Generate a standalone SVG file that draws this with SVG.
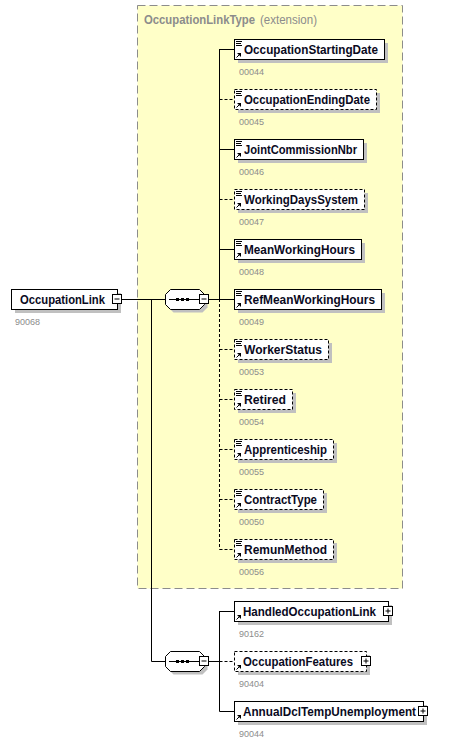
<svg xmlns="http://www.w3.org/2000/svg" width="463" height="744" viewBox="0 0 463 744">
<style>
.bg{fill:#ffffff}
.ext{fill:#ffffc8;stroke:#8c8c8c;stroke-width:1;stroke-dasharray:8,4}
.sh{fill:#c0c0c0}
.box{fill:#ffffff;stroke:#000000;stroke-width:1}
.opt{fill:#ffffff;stroke:#000000;stroke-width:1;stroke-dasharray:3,2}
.lbl{font-family:"Liberation Sans",Arial,sans-serif;font-size:13px;font-weight:bold;fill:#0a0a1e}
.num{font-family:"Liberation Sans",Arial,sans-serif;font-size:9px;fill:#8c8c8c}
.hdr{font-family:"Liberation Sans",Arial,sans-serif;font-size:12px;fill:#8c8c8c}
.ln{stroke:#000000;stroke-width:1;fill:none}
.dl{stroke:#000000;stroke-width:1;fill:none;stroke-dasharray:3,2}
.ic{stroke:#000000;stroke-width:1;fill:none}
</style>
<defs>
<g id="doc"><path d="M2,2.5h6M2,4.5h5M2,6.5h6" class="ic"/></g>
<g id="ref"><path d="M2.5,18.5L6,15" class="ic"/><path d="M7,14L7,18L3,14Z" fill="#000"/></g>
<g id="minus"><rect x="0.5" y="0.5" width="9" height="9" fill="#fff" stroke="#000"/><path d="M2.5,5h5" class="ic"/></g>
<g id="plus"><rect x="0.5" y="0.5" width="9" height="9" fill="#fff" stroke="#000"/><path d="M2.5,5h5M5,2.5v5" class="ic"/></g>
<g id="seq">
<polygon points="8.5,3.5 37.5,3.5 42.5,8.5 42.5,18.5 37.5,23.5 8.5,23.5 3.5,18.5 3.5,8.5" fill="#c0c0c0"/>
<polygon points="5.5,0.5 34.5,0.5 39.5,5.5 39.5,15.5 34.5,20.5 5.5,20.5 0.5,15.5 0.5,5.5" fill="#fff" stroke="#000"/>
<path d="M4,10.5h30" class="ic"/>
<rect x="11" y="9" width="3" height="3" fill="#000"/>
<rect x="16" y="9" width="3" height="3" fill="#000"/>
<rect x="21" y="9" width="3" height="3" fill="#000"/>
</g>
</defs>
<rect class="bg" x="0" y="0" width="463" height="744"/>
<rect class="ext" x="137.5" y="5.5" width="265" height="583"/>
<text x="144" y="24" class="hdr" font-size="11.5" font-weight="bold" textLength="111" lengthAdjust="spacingAndGlyphs">OccupationLinkType</text>
<text x="260" y="24" class="hdr" textLength="57" lengthAdjust="spacingAndGlyphs">(extension)</text>

<g id="connectors">
<path d="M122,299.5H165" class="ln"/>
<path d="M151.5,299V661.5H165" class="ln"/>
<path d="M209,299.5H219.5" class="ln"/>
<path d="M219.5,49V299" class="ln"/>
<path d="M219.5,299V549.5" class="dl"/>
<path d="M219.5,49.5H234M219.5,149.5H234M219.5,249.5H234M219.5,299.5H234" class="ln"/>
<path d="M219.5,99.5H234M219.5,199.5H234M219.5,349.5H234M219.5,399.5H234M219.5,449.5H234M219.5,499.5H234M219.5,549.5H234" class="dl"/>
<path d="M209,661.5H219.5M219.5,611V711.5" class="ln"/>
<path d="M219.5,611.5H234M219.5,711.5H234" class="ln"/>
<path d="M219.5,661.5H234" class="dl"/>
</g>

<g id="n-OccupationLink">
<rect class="sh" x="15" y="293" width="106" height="20"/>
<rect class="box" x="11.5" y="289.5" width="106" height="20"/>
<text x="20" y="304" class="lbl" textLength="85" lengthAdjust="spacingAndGlyphs">OccupationLink</text>
<use href="#minus" x="112" y="294"/>
<text x="15" y="325" class="num">90068</text>
</g>

<g id="seq1"><use href="#seq" x="165" y="289"/><use href="#minus" x="199" y="294"/></g>
<g id="seq2"><use href="#seq" x="165" y="651"/><use href="#minus" x="199" y="656"/></g>

<g id="n-OccupationStartingDate">
<rect class="sh" x="238" y="43" width="150" height="20"/>
<rect class="box" x="234.5" y="39.5" width="150" height="20"/>
<use href="#doc" x="234" y="39"/><use href="#ref" x="234" y="39"/>
<text x="244" y="54" class="lbl" textLength="134" lengthAdjust="spacingAndGlyphs">OccupationStartingDate</text>
<text x="239" y="75" class="num">00044</text>
</g>
<g id="n-OccupationEndingDate">
<rect class="sh" x="238" y="93" width="142" height="20"/>
<rect class="opt" x="234.5" y="89.5" width="142" height="20"/>
<use href="#doc" x="234" y="89"/><use href="#ref" x="234" y="89"/>
<text x="244" y="104" class="lbl" textLength="126" lengthAdjust="spacingAndGlyphs">OccupationEndingDate</text>
<text x="239" y="125" class="num">00045</text>
</g>
<g id="n-JointCommissionNbr">
<rect class="sh" x="238" y="143" width="129" height="20"/>
<rect class="box" x="234.5" y="139.5" width="129" height="20"/>
<use href="#doc" x="234" y="139"/><use href="#ref" x="234" y="139"/>
<text x="244" y="154" class="lbl" textLength="113" lengthAdjust="spacingAndGlyphs">JointCommissionNbr</text>
<text x="239" y="175" class="num">00046</text>
</g>
<g id="n-WorkingDaysSystem">
<rect class="sh" x="238" y="193" width="130" height="20"/>
<rect class="opt" x="234.5" y="189.5" width="130" height="20"/>
<use href="#doc" x="234" y="189"/><use href="#ref" x="234" y="189"/>
<text x="244" y="204" class="lbl" textLength="114" lengthAdjust="spacingAndGlyphs">WorkingDaysSystem</text>
<text x="239" y="225" class="num">00047</text>
</g>
<g id="n-MeanWorkingHours">
<rect class="sh" x="238" y="243" width="127" height="20"/>
<rect class="box" x="234.5" y="239.5" width="127" height="20"/>
<use href="#doc" x="234" y="239"/><use href="#ref" x="234" y="239"/>
<text x="244" y="254" class="lbl" textLength="111" lengthAdjust="spacingAndGlyphs">MeanWorkingHours</text>
<text x="239" y="275" class="num">00048</text>
</g>
<g id="n-RefMeanWorkingHours">
<rect class="sh" x="238" y="293" width="147" height="20"/>
<rect class="box" x="234.5" y="289.5" width="147" height="20"/>
<use href="#doc" x="234" y="289"/><use href="#ref" x="234" y="289"/>
<text x="244" y="304" class="lbl" textLength="131" lengthAdjust="spacingAndGlyphs">RefMeanWorkingHours</text>
<text x="239" y="325" class="num">00049</text>
</g>
<g id="n-WorkerStatus">
<rect class="sh" x="238" y="343" width="94" height="20"/>
<rect class="opt" x="234.5" y="339.5" width="94" height="20"/>
<use href="#doc" x="234" y="339"/><use href="#ref" x="234" y="339"/>
<text x="244" y="354" class="lbl" textLength="78" lengthAdjust="spacingAndGlyphs">WorkerStatus</text>
<text x="239" y="375" class="num">00053</text>
</g>
<g id="n-Retired">
<rect class="sh" x="238" y="393" width="58" height="20"/>
<rect class="opt" x="234.5" y="389.5" width="58" height="20"/>
<use href="#doc" x="234" y="389"/><use href="#ref" x="234" y="389"/>
<text x="244" y="404" class="lbl" textLength="42" lengthAdjust="spacingAndGlyphs">Retired</text>
<text x="239" y="425" class="num">00054</text>
</g>
<g id="n-Apprenticeship">
<rect class="sh" x="238" y="443" width="99" height="20"/>
<rect class="opt" x="234.5" y="439.5" width="99" height="20"/>
<use href="#doc" x="234" y="439"/><use href="#ref" x="234" y="439"/>
<text x="244" y="454" class="lbl" textLength="83" lengthAdjust="spacingAndGlyphs">Apprenticeship</text>
<text x="239" y="475" class="num">00055</text>
</g>
<g id="n-ContractType">
<rect class="sh" x="238" y="493" width="89" height="20"/>
<rect class="opt" x="234.5" y="489.5" width="89" height="20"/>
<use href="#doc" x="234" y="489"/><use href="#ref" x="234" y="489"/>
<text x="244" y="504" class="lbl" textLength="73" lengthAdjust="spacingAndGlyphs">ContractType</text>
<text x="239" y="525" class="num">00050</text>
</g>
<g id="n-RemunMethod">
<rect class="sh" x="238" y="543" width="99" height="20"/>
<rect class="opt" x="234.5" y="539.5" width="99" height="20"/>
<use href="#doc" x="234" y="539"/><use href="#ref" x="234" y="539"/>
<text x="244" y="554" class="lbl" textLength="83" lengthAdjust="spacingAndGlyphs">RemunMethod</text>
<text x="239" y="575" class="num">00056</text>
</g>

<g id="n-HandledOccupationLink">
<rect class="sh" x="238" y="605" width="154" height="20"/>
<rect class="box" x="234.5" y="601.5" width="154" height="20"/>
<use href="#ref" x="234" y="601"/>
<text x="243" y="616" class="lbl" textLength="133" lengthAdjust="spacingAndGlyphs">HandledOccupationLink</text>
<use href="#plus" x="383" y="606"/>
<text x="239" y="637" class="num">90162</text>
</g>
<g id="n-OccupationFeatures">
<rect class="sh" x="238" y="655" width="132" height="20"/>
<rect class="opt" x="234.5" y="651.5" width="132" height="20"/>
<use href="#ref" x="234" y="651"/>
<text x="243" y="666" class="lbl" textLength="110" lengthAdjust="spacingAndGlyphs">OccupationFeatures</text>
<use href="#plus" x="361" y="656"/>
<text x="239" y="687" class="num">90404</text>
</g>
<g id="n-AnnualDclTempUnemployment">
<rect class="sh" x="238" y="705" width="189" height="20"/>
<rect class="box" x="234.5" y="701.5" width="189" height="20"/>
<use href="#ref" x="234" y="701"/>
<text x="243" y="716" class="lbl" textLength="173" lengthAdjust="spacingAndGlyphs">AnnualDclTempUnemployment</text>
<use href="#plus" x="418" y="706"/>
<text x="239" y="737" class="num">90044</text>
</g>
</svg>
